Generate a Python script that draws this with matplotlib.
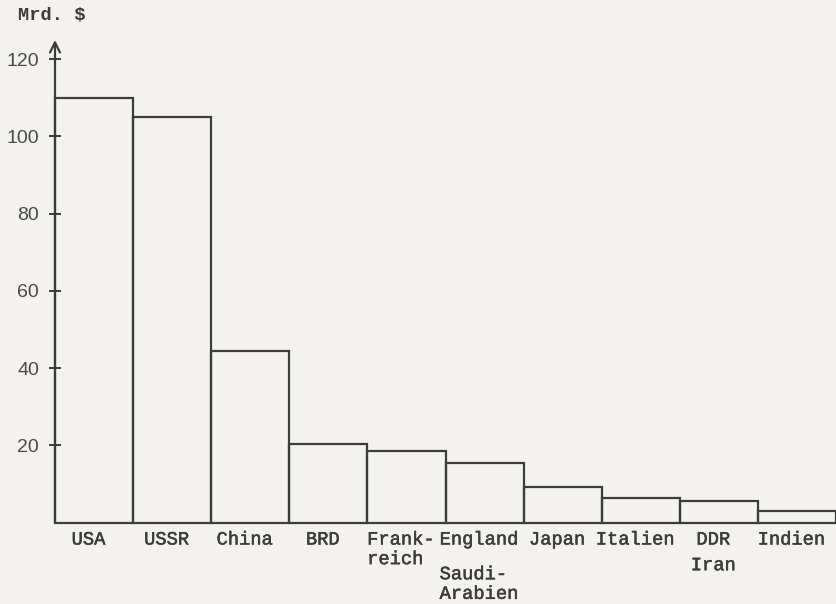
import matplotlib
matplotlib.use('Agg')
import matplotlib.pyplot as plt
import matplotlib.patheffects as pe

# Rüstungsausgaben (Mrd. $)
countries = ["USA", "USSR", "China", "BRD", "Frank-\nreich", "England",
             "Japan", "Italien", "DDR", "Indien"]
second_countries = ["", "", "", "", "", "Saudi-\nArabien", "", "", "Iran", ""]
spending = [110, 105, 44.5, 20.4, 18.4, 15.5, 9.1, 6.4, 5.5, 3.0]
y_ticks = [20, 40, 60, 80, 100, 120]

paper = '#f3f2ee'
ink = '#3c3c3c'
mono = ['Liberation Mono', 'DejaVu Sans Mono']
thick = [pe.withStroke(linewidth=0.35, foreground=ink)]

fig = plt.figure(figsize=(8.37, 6.04), dpi=100, facecolor=paper)
ax = fig.add_axes([55 / 837, 81.5 / 604, 781 / 837, 482.5 / 604])
ax.set_facecolor('none')

x = list(range(len(spending)))
ax.bar(x, spending, width=1.0, align='edge', facecolor='none',
       edgecolor=ink, linewidth=1.6, clip_on=False)

ax.set_xlim(0, len(spending))
ax.set_ylim(0, 125)
for s in ax.spines.values():
    s.set_visible(False)

# y axis with arrow
ax.annotate('', xy=(0, 125), xytext=(0, 0),
            arrowprops=dict(arrowstyle='->', color=ink, lw=1.6,
                            mutation_scale=18, shrinkA=0, shrinkB=0),
            annotation_clip=False)

ax.set_xticks([])
ax.set_yticks(y_ticks)
ax.set_yticklabels([str(t) for t in y_ticks], family='Liberation Sans',
                   fontsize=14, color='#4a4a4a')
ax.tick_params(axis='y', direction='inout', length=8, width=1.4,
               color=ink, pad=7.5)

# category labels (typewriter)
for i, name in enumerate(countries):
    ax.annotate(name, xy=(i + 0.5, 0), xytext=(-4, -6.5),
                textcoords='offset points', ha='center', va='top',
                multialignment='left', family=mono, fontsize=13.5,
                color=ink, linespacing=1.2, annotation_clip=False,
                path_effects=thick)

drops = {5: -31.5, 8: -25}
for i, name in enumerate(second_countries):
    if name:
        ax.annotate(name, xy=(i + 0.5, 0), xytext=(-4, drops[i]),
                    textcoords='offset points', ha='center', va='top',
                    multialignment='left', family=mono, fontsize=13.5,
                    color=ink, linespacing=1.2, annotation_clip=False,
                    path_effects=thick)

fig.text(18 / 837, 1 - 16 / 604, 'Mrd. $', family=mono, fontsize=13.5,
         fontweight='bold', color=ink, ha='left', va='center')

fig.savefig('out.png', dpi=100, facecolor=paper)
